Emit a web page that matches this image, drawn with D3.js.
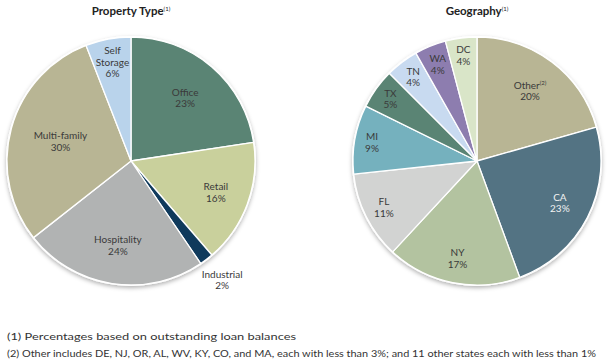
<!DOCTYPE html>
<html>
<head>
<meta charset="utf-8">
<script src="https://cdn.jsdelivr.net/npm/d3@7"></script>
<style>
  body { margin: 0; background: #fff; }
  svg { display: block; font-family: Lato, "Open Sans", sans-serif; }
</style>
</head>
<body>
<svg id="chart" width="607" height="360"></svg>
<script>
// ---- Property Type ----
const propCategories = ["Office", "Retail", "Industrial", "Hospitality", "Multi-family", "Self Storage"];
const propValues = [22.6, 16.1, 1.8, 23.9, 29.7, 5.9];
const propLabels = ["23%", "16%", "2%", "24%", "30%", "6%"]; // printed percentages
const propColors = ["#5a8474", "#c9d09c", "#0f3a5c", "#b1b3b3", "#b8b594", "#b9d3eb"];

// ---- Geography ----
const geoCategories = ["Other", "CA", "NY", "FL", "MI", "TX", "TN", "WA", "DC"];
const geoValues = [20.6, 23.8, 17.5, 11.4, 9.0, 5.2, 4.3, 4.1, 4.1];
const geoLabels = ["20%", "23%", "17%", "11%", "9%", "5%", "4%", "4%", "4%"];
const geoColors = ["#b8b594", "#537383", "#b3c3a0", "#d2d3d2", "#75b1be", "#5a8474", "#c8daf0", "#8d7daf", "#d9e5c8"];

const footnotes = [
  "(1) Percentages based on outstanding loan balances",
  "(2) Other includes DE, NJ, OR, AL, WV, KY, CO, and MA, each with less than 3%; and 11 other states each with less than 1%"
];
const footWidths = [289, 589];

const svg = d3.select("#chart");
const defs = svg.append("defs");
const f = defs.append("filter").attr("id", "shadow").attr("x", "-20%").attr("y", "-20%").attr("width", "140%").attr("height", "140%");
f.append("feDropShadow").attr("dx", 0).attr("dy", 2).attr("stdDeviation", 2.2)
  .attr("flood-color", "#000").attr("flood-opacity", 0.3);

function drawPie(opts) {
  const { cx, cy, r, title, note, cats, vals, labels, colors, labelR, labelFill, nameSup } = opts;
  const g = svg.append("g").attr("transform", `translate(${cx},${cy})`);
  const pie = d3.pie().sort(null).value(d => d.v);
  const data = cats.map((c, i) => ({ c, v: vals[i], l: labels[i], i }));
  const arcs = pie(data);
  const arc = d3.arc().innerRadius(0).outerRadius(r);

  g.append("circle").attr("r", r + 1).attr("fill", "#fff").attr("filter", "url(#shadow)");
  g.selectAll("path.slice").data(arcs).enter().append("path")
    .attr("class", "slice")
    .attr("d", arc)
    .attr("fill", d => colors[d.data.i])
    .attr("stroke", "#fff").attr("stroke-width", 1.3).attr("stroke-linejoin", "round");

  arcs.forEach(d => {
    const lr = r * labelR[d.data.i];
    const la = d3.arc().innerRadius(lr).outerRadius(lr);
    const [x, y] = la.centroid(d);
    const lines = d.data.c === "Self Storage" ? ["Self", "Storage", d.data.l] : [d.data.c, d.data.l];
    const lh = 11.5;
    const t = g.append("text").attr("text-anchor", "middle")
      .attr("font-size", 10).attr("fill", labelFill[d.data.i] || "#3a3a3a");
    lines.forEach((ln, k) => {
      const ts = t.append("tspan").attr("x", x)
        .attr("y", y + (k - (lines.length - 1) / 2) * lh + 3.5);
      ts.text(ln);
      if (k === 0 && nameSup && nameSup[d.data.c]) {
        t.append("tspan").attr("font-size", 6).attr("dy", -3.5).text(nameSup[d.data.c]);
      }
    });
  });

  const tt = svg.append("text").attr("x", cx).attr("y", 15).attr("text-anchor", "middle")
    .attr("font-size", 11.5).attr("font-weight", "bold").attr("fill", "#222");
  tt.append("tspan").text(title);
  tt.append("tspan").attr("font-size", 6).attr("font-weight", "normal").attr("dy", -4.5).text(note);
}

drawPie({
  cx: 131, cy: 161, r: 124,
  title: "Property Type", note: "(1)",
  cats: propCategories, vals: propValues, labels: propLabels, colors: propColors,
  labelR: [0.67, 0.73, 1.21, 0.69, 0.59, 0.81],
  labelFill: []
});

drawPie({
  cx: 477, cy: 161, r: 124,
  title: "Geography", note: "(1)",
  cats: geoCategories, vals: geoValues, labels: geoLabels, colors: geoColors,
  labelR: [0.71, 0.75, 0.8, 0.84, 0.86, 0.86, 0.85, 0.84, 0.86],
  labelFill: ["#3a3a3a", "#f2f2f2"],
  nameSup: { "Other": "(2)" }
});

svg.selectAll("text.foot").data(footnotes).enter().append("text")
  .attr("class", "foot")
  .attr("x", 7).attr("y", (d, i) => 339.5 + i * 17)
  .attr("font-size", 10).attr("fill", "#333")
  .attr("textLength", (d, i) => footWidths[i]).attr("lengthAdjust", "spacingAndGlyphs")
  .text(d => d);
</script>
</body>
</html>
